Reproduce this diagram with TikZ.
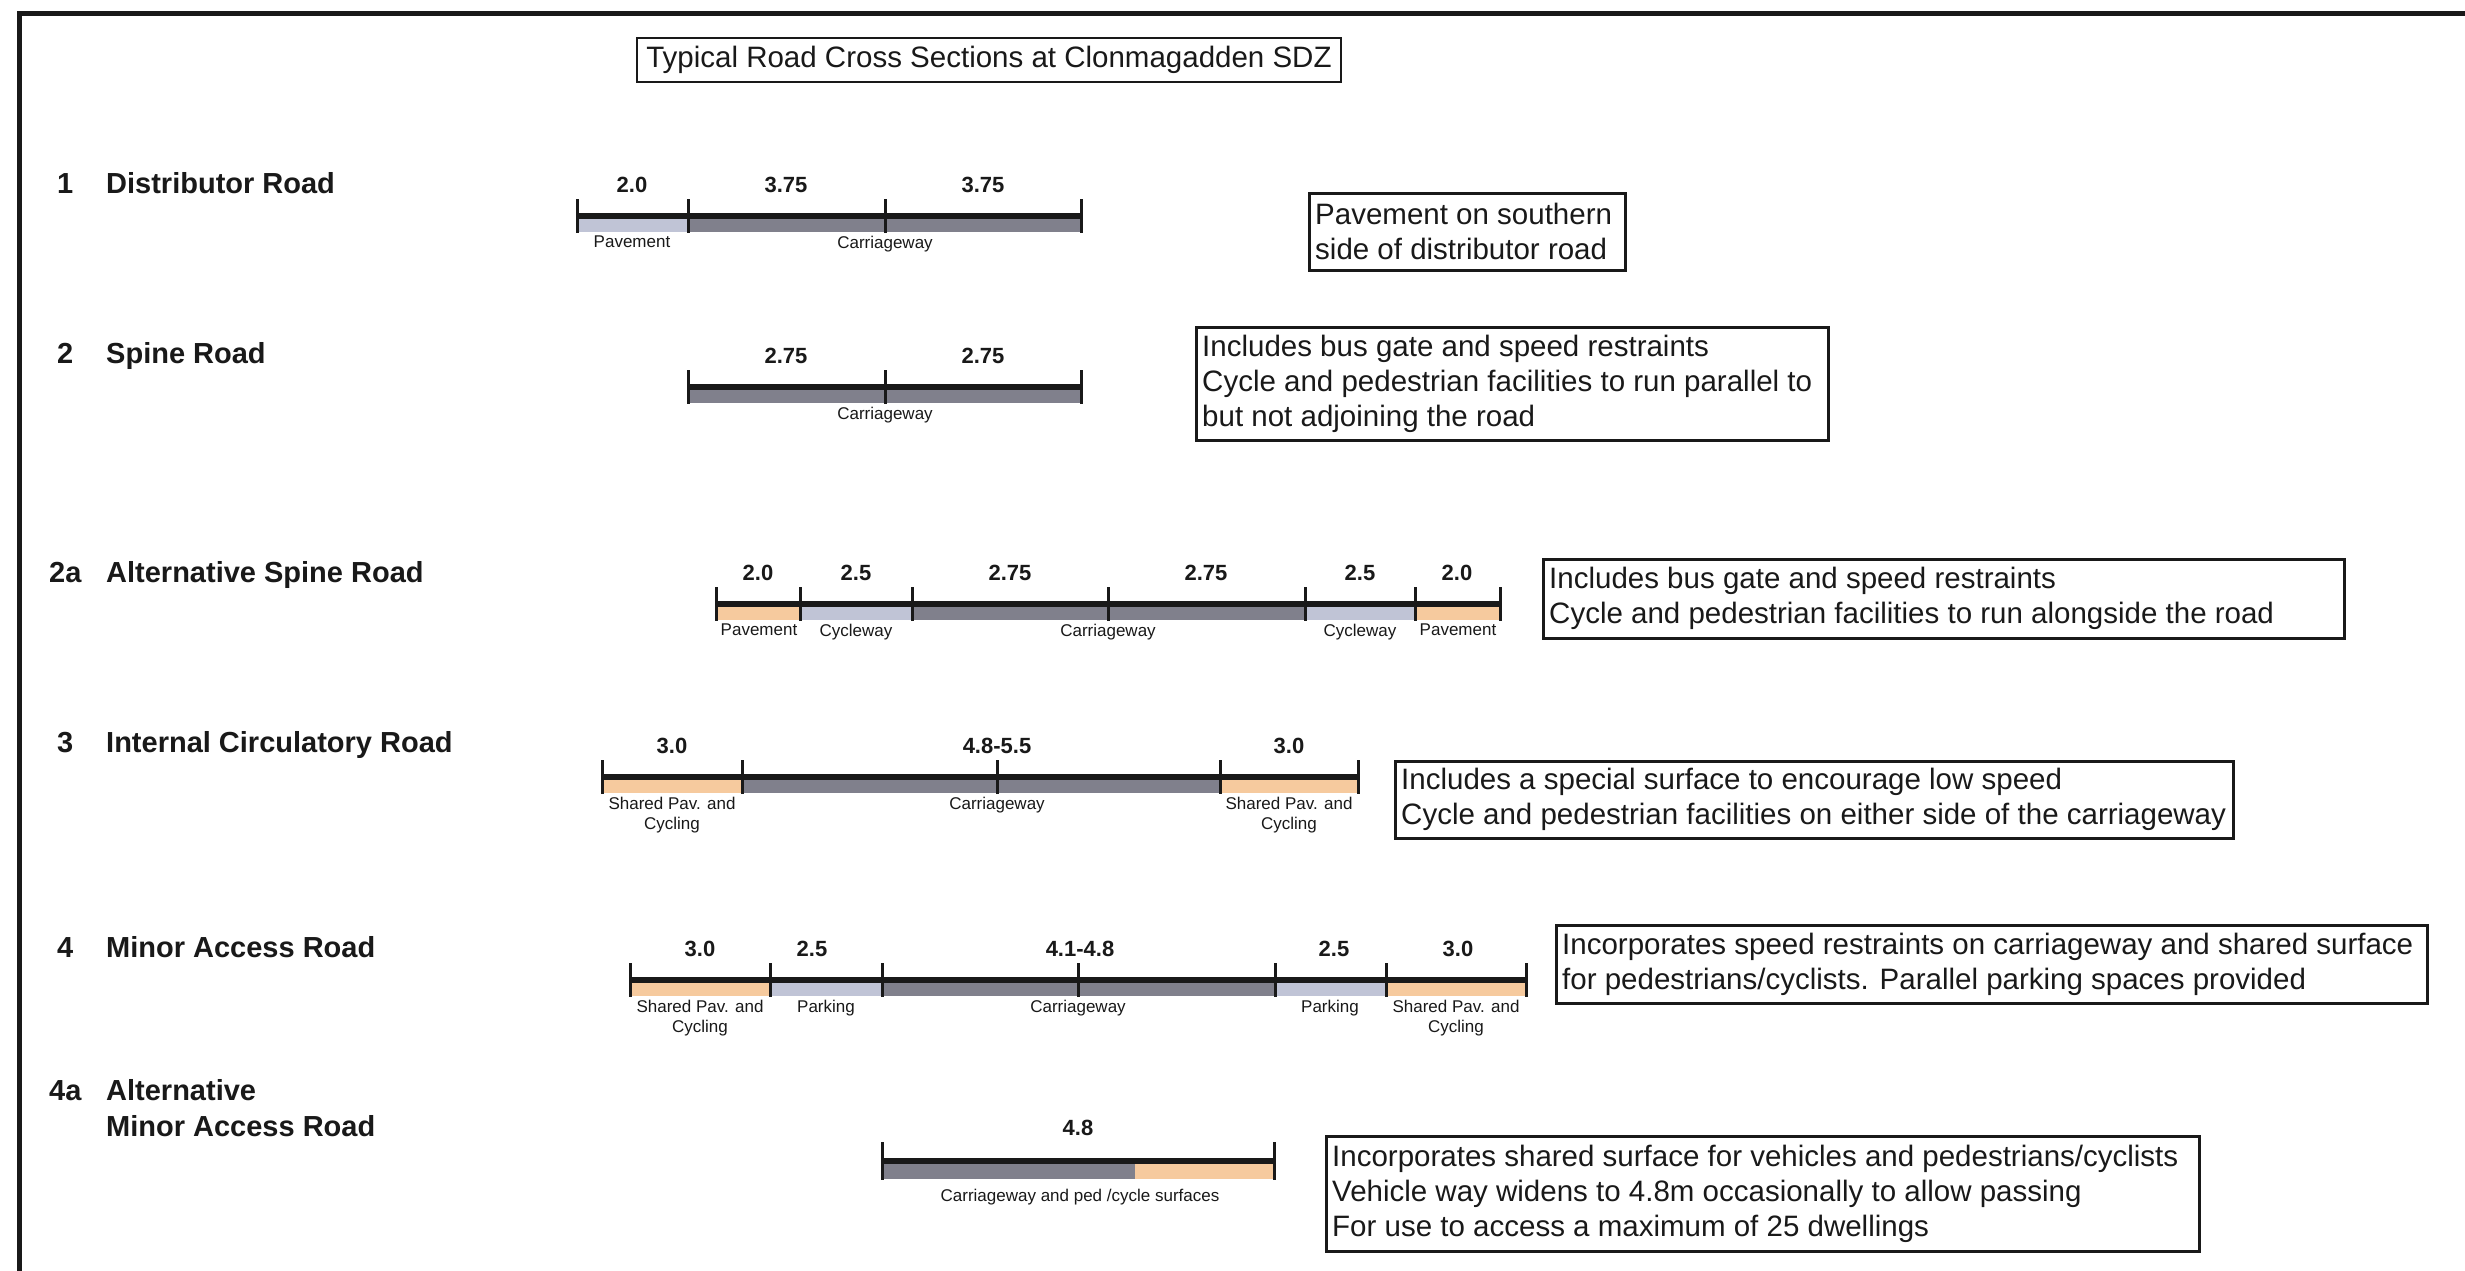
\documentclass[tikz,border=0pt]{standalone}
\usepackage{fontspec}
\setmainfont{Liberation Sans}
\definecolor{cw}{RGB}{128,128,140}
\definecolor{lt}{RGB}{192,196,214}
\definecolor{orng}{RGB}{246,202,158}
\definecolor{ink}{RGB}{25,25,25}
\begin{document}
\begin{tikzpicture}[x=1pt,y=-1pt,
  roadlbl/.style={font=\fontsize{29}{34}\selectfont\bfseries, anchor=base west, inner sep=0, text=ink},
  num/.style={font=\fontsize{22}{26}\selectfont\bfseries, anchor=base, inner sep=0, text=ink},
  seglbl/.style={font=\fontsize{17}{20}\selectfont, anchor=north, inner sep=0, align=center, text=ink},
  notebox/.style={draw=ink, line width=2.5, anchor=north west, inner sep=0},
  notetext/.style={font=\fontsize{29.5}{35}\selectfont, align=left, anchor=west, inner sep=0, text=ink},
  tickmark/.style={draw=ink, line width=3},
  edgeline/.style={draw=ink, line width=6}
]
\useasboundingbox (0,0) rectangle (2465,1271);
\fill[white] (0,0) rectangle (2465,1271);
% frame
\draw[ink, line width=5] (19,1290) -- (19,14) -- (2490,14);
% title
\node[draw=ink, line width=2, minimum width=704, minimum height=44, inner sep=0,
      font=\fontsize{29.5}{35}\selectfont, text=ink] (title) at (989,60) {Typical Road Cross Sections at Clonmagadden SDZ};

% ---------- Row 1 ----------
\node[roadlbl] (n1) at (57,193) {1};
\node[roadlbl] (r1) at (106,193) {Distributor Road};
\fill[lt] (577,216) rectangle (688,232);
\fill[cw] (688,216) rectangle (1081,232);
\draw[edgeline] (577,216) -- (1081,216);
\foreach \x in {577,688,885,1081} \draw[tickmark] (\x,199) -- (\x,233);
\node[num] (r1a) at (632,192) {2.0};
\node[num] (r1b) at (786,192) {3.75};
\node[num] (r1c) at (983,192) {3.75};
\node[seglbl] (r1p) at (632,236) {Pavement};
\node[seglbl] (r1cw) at (885,236) {Carriageway};
\node[notebox, minimum width=316, minimum height=77] (b1) at (1308,192) {};
\node[notetext] (t1) at ([xshift=7pt]b1.west) {Pavement on southern\\side of distributor road};

% ---------- Row 2 ----------
\node[roadlbl] (n2) at (57,363) {2};
\node[roadlbl] (r2) at (106,363) {Spine Road};
\fill[cw] (688,387) rectangle (1081,403);
\draw[edgeline] (688,387) -- (1081,387);
\foreach \x in {688,885,1081} \draw[tickmark] (\x,370) -- (\x,404);
\node[num] (r2a) at (786,363) {2.75};
\node[num] (r2b) at (983,363) {2.75};
\node[seglbl] (r2cw) at (885,407) {Carriageway};
\node[notebox, minimum width=632, minimum height=113] (b2) at (1195,326) {};
\node[notetext] (t2) at ([xshift=7pt]b2.west) {Includes bus gate and speed restraints\\Cycle and pedestrian facilities to run parallel to\\but not adjoining the road};

% ---------- Row 2a ----------
\node[roadlbl] (n2a) at (49,582) {2a};
\node[roadlbl] (r2a) at (106,582) {Alternative Spine Road};
\fill[orng] (716,604) rectangle (800,620);
\fill[lt] (800,604) rectangle (912,620);
\fill[cw] (912,604) rectangle (1305,620);
\fill[lt] (1305,604) rectangle (1415,620);
\fill[orng] (1415,604) rectangle (1500,620);
\draw[edgeline] (716,604) -- (1500,604);
\foreach \x in {716,800,912,1108,1305,1415,1500} \draw[tickmark] (\x,587) -- (\x,621);
\node[num] (s2a1) at (758,580) {2.0};
\node[num] (s2a2) at (856,580) {2.5};
\node[num] (s2a3) at (1010,580) {2.75};
\node[num] (s2a4) at (1206,580) {2.75};
\node[num] (s2a5) at (1360,580) {2.5};
\node[num] (s2a6) at (1457,580) {2.0};
\node[seglbl] (l2a1) at (759,624) {Pavement};
\node[seglbl] (l2a2) at (856,624) {Cycleway};
\node[seglbl] (l2a3) at (1108,624) {Carriageway};
\node[seglbl] (l2a4) at (1360,624) {Cycleway};
\node[seglbl] (l2a5) at (1458,624) {Pavement};
\node[notebox, minimum width=801, minimum height=79] (b2a) at (1542,558) {};
\node[notetext] (t2a) at ([xshift=7pt]b2a.west) {Includes bus gate and speed restraints\\Cycle and pedestrian facilities to run alongside the road};

% ---------- Row 3 ----------
\node[roadlbl] (n3) at (57,752) {3};
\node[roadlbl] (r3) at (106,752) {Internal Circulatory Road};
\fill[orng] (602,777) rectangle (742,793);
\fill[cw] (742,777) rectangle (1220,793);
\fill[orng] (1220,777) rectangle (1358,793);
\draw[edgeline] (602,777) -- (1358,777);
\foreach \x in {602,742,997,1220,1358} \draw[tickmark] (\x,760) -- (\x,794);
\node[num] (s31) at (672,753) {3.0};
\node[num] (s32) at (997,753) {4.8-5.5};
\node[num] (s33) at (1289,753) {3.0};
\node[seglbl] (l31) at (672,797) {Shared Pav. and\\Cycling};
\node[seglbl] (l32) at (997,797) {Carriageway};
\node[seglbl] (l33) at (1289,797) {Shared Pav. and\\Cycling};
\node[notebox, minimum width=838, minimum height=77] (b3) at (1394,760) {};
\node[notetext] (t3) at ([xshift=7pt]b3.west) {Includes a special surface to encourage low speed\\Cycle and pedestrian facilities on either side of the carriageway};

% ---------- Row 4 ----------
\node[roadlbl] (n4) at (57,957) {4};
\node[roadlbl] (r4) at (106,957) {Minor Access Road};
\fill[orng] (630,980) rectangle (770,996);
\fill[lt] (770,980) rectangle (882,996);
\fill[cw] (882,980) rectangle (1275,996);
\fill[lt] (1275,980) rectangle (1386,996);
\fill[orng] (1386,980) rectangle (1526,996);
\draw[edgeline] (630,980) -- (1526,980);
\foreach \x in {630,770,882,1078,1275,1386,1526} \draw[tickmark] (\x,963) -- (\x,997);
\node[num] (s41) at (700,956) {3.0};
\node[num] (s42) at (812,956) {2.5};
\node[num] (s43) at (1080,956) {4.1-4.8};
\node[num] (s44) at (1334,956) {2.5};
\node[num] (s45) at (1458,956) {3.0};
\node[seglbl] (l41) at (700,1000) {Shared Pav. and\\Cycling};
\node[seglbl] (l42) at (826,1000) {Parking};
\node[seglbl] (l43) at (1078,1000) {Carriageway};
\node[seglbl] (l44) at (1330,1000) {Parking};
\node[seglbl] (l45) at (1456,1000) {Shared Pav. and\\Cycling};
\node[notebox, minimum width=871, minimum height=78] (b4) at (1555,924) {};
\node[notetext] (t4) at ([xshift=7pt]b4.west) {Incorporates speed restraints on carriageway and shared surface\\for pedestrians/cyclists. Parallel parking spaces provided};

% ---------- Row 4a ----------
\node[roadlbl] (n4a) at (49,1100) {4a};
\node[roadlbl] (r4a1) at (106,1100) {Alternative};
\node[roadlbl] (r4a2) at (106,1136) {Minor Access Road};
\fill[cw] (882,1161) rectangle (1135,1179);
\fill[orng] (1135,1161) rectangle (1274,1179);
\draw[edgeline] (882,1161) -- (1274,1161);
\foreach \x in {882,1274} \draw[tickmark] (\x,1142) -- (\x,1180);
\node[num] (s4a) at (1078,1135) {4.8};
\node[seglbl] (l4a) at (1080,1189) {Carriageway and ped /cycle surfaces};
\node[notebox, minimum width=873, minimum height=115] (b4a) at (1325,1135) {};
\node[notetext] (t4a) at ([xshift=7pt]b4a.west) {Incorporates shared surface for vehicles and pedestrians/cyclists\\Vehicle way widens to 4.8m occasionally to allow passing\\For use to access a maximum of 25 dwellings};
\end{tikzpicture}
\end{document}
